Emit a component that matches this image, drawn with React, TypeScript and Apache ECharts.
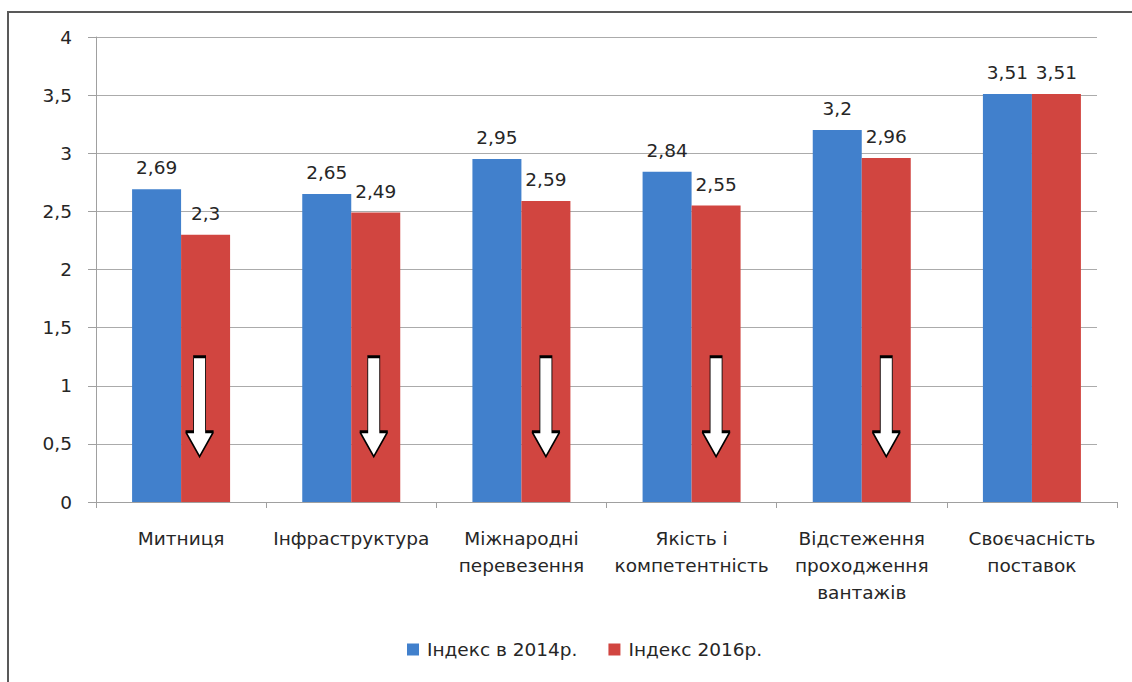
import React, { useEffect, useRef } from "react";
import * as echarts from "echarts";

const categories = [
  "Митниця",
  "Інфраструктура",
  "Міжнародні\nперевезення",
  "Якість і\nкомпетентність",
  "Відстеження\nпроходження\nвантажів",
  "Своєчасність\nпоставок",
];
const seriesNames = ["Індекс в 2014р.", "Індекс 2016р."];
const index2014 = [2.69, 2.65, 2.95, 2.84, 3.2, 3.51];
const index2016 = [2.3, 2.49, 2.59, 2.55, 2.96, 3.51];
const yMin = 0;
const yMax = 4;
const yStep = 0.5;
// decline arrows drawn in the first five 2016 bars
const arrowCategories = categories.slice(0, 5);
const arrowLevel = [0.82, 0.82, 0.82, 0.82, 0.82];
const arrowShift = [-6, -2, 0, 0, 0];

const FONT = "'DejaVu Sans', 'Open Sans', sans-serif";
const FS = 18.5;
const TEXT = "#262626";
const BLUE = "#4180CC";
const RED = "#D14540";
const GRID_LINE = "#ABABAB";
const BAR_W = 49;

const fmt = (v: number) => String(v).replace(".", ",");

export default function App() {
  const ref = useRef<HTMLDivElement>(null);
  useEffect(() => {
    if (!ref.current) return;
    const chart = echarts.init(ref.current, undefined, { renderer: "svg" });
    const option: any = {
      animation: false,
      backgroundColor: "#ffffff",
      textStyle: { fontFamily: FONT, color: TEXT },
      grid: [
        { left: 96, right: 15, top: 37, bottom: 180 },
        { left: 96, right: 35, top: 37, bottom: 180 },
      ],
      legend: {
        data: seriesNames,
        left: 407,
        top: 640,
        padding: 0,
        itemWidth: 12,
        itemHeight: 12,
        itemGap: 31,
        icon: "rect",
        selectedMode: false,
        textStyle: { fontFamily: FONT, fontSize: FS, color: TEXT, padding: [0, 0, 0, 3] },
      },
      xAxis: [
        {
          type: "category",
          gridIndex: 0,
          data: categories,
          axisLine: { show: true, lineStyle: { color: "#A0A0A0", width: 1 } },
          axisTick: { show: true, length: 6, interval: 0, lineStyle: { color: "#A0A0A0" } },
          axisLabel: {
            interval: 0,
            margin: 23,
            fontFamily: FONT,
            fontSize: FS,
            lineHeight: 27,
            color: TEXT,
          },
          splitLine: { show: false },
        },
        { type: "value", gridIndex: 1, show: false },
      ],
      yAxis: [
        {
          type: "value",
          gridIndex: 0,
          min: yMin,
          max: yMax,
          interval: yStep,
          axisLine: { show: true, lineStyle: { color: "#A0A0A0", width: 1 } },
          axisTick: { show: true, length: 8, lineStyle: { color: "#A0A0A0" } },
          axisLabel: {
            margin: 24,
            fontFamily: FONT,
            fontSize: FS,
            color: TEXT,
            formatter: (v: number) => fmt(v),
          },
          splitLine: { show: false },
        },
        {
          type: "value",
          gridIndex: 1,
          min: yMin,
          max: yMax,
          interval: yStep,
          axisLine: { show: false },
          axisTick: { show: false },
          axisLabel: { show: false },
          splitLine: { show: true, lineStyle: { color: GRID_LINE, width: 1 } },
        },
      ],
      graphic: [
        {
          type: "rect",
          shape: { x: 8, y: 12, width: 1300, height: 900 },
          style: { fill: "none", stroke: "#595959", lineWidth: 2 },
          silent: true,
        },
      ],
      series: [
        {
          name: seriesNames[0],
          type: "bar",
          xAxisIndex: 0,
          yAxisIndex: 0,
          data: index2014,
          barWidth: BAR_W,
          barGap: "0%",
          itemStyle: { color: BLUE },
          silent: true,
          label: {
            show: true,
            position: "top",
            distance: 12,
            fontFamily: FONT,
            fontSize: FS,
            color: TEXT,
            formatter: (p: any) => fmt(p.value),
          },
        },
        {
          name: seriesNames[1],
          type: "bar",
          xAxisIndex: 0,
          yAxisIndex: 0,
          data: index2016,
          barWidth: BAR_W,
          barGap: "0%",
          itemStyle: { color: RED },
          silent: true,
          label: {
            show: true,
            position: "top",
            distance: 12,
            fontFamily: FONT,
            fontSize: FS,
            color: TEXT,
            formatter: (p: any) => fmt(p.value),
          },
        },
        {
          name: "arrows",
          type: "scatter",
          xAxisIndex: 0,
          yAxisIndex: 0,
          z: 5,
          silent: true,
          symbol: "path://M8,0 L20,0 L20,75 L28,75 L14,100 L0,75 L8,75 Z",
          symbolSize: [28, 100],
          itemStyle: { color: "#ffffff", borderColor: "#000000", borderWidth: 1.6, opacity: 1 },
          data: arrowCategories.map((c, i) => ({
            value: [c, arrowLevel[i]],
            symbolOffset: [BAR_W / 2 + arrowShift[i], 0],
          })),
        },
      ],
    };
    chart.setOption(option);
    return () => chart.dispose();
  }, []);
  return (
    <div
      ref={ref}
      style={{ position: "fixed", left: 0, top: 0, width: 1132, height: 682, background: "#fff" }}
    />
  );
}
